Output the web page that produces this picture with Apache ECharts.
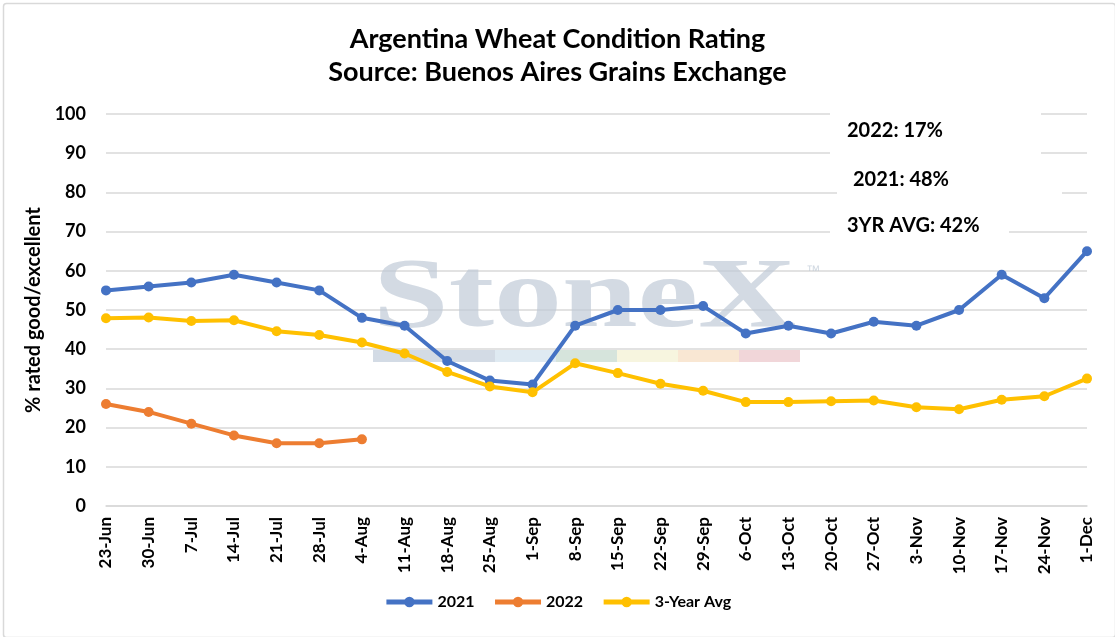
<!doctype html>
<html>
	<head>
		<meta charset="utf-8">
		<title>Argentina Wheat Condition Rating</title>
		<style>
			html, body { margin: 0; padding: 0; background: #fff; }
			#main { width: 1115px; height: 637px; }
		</style>
	</head>
	<body>
		<div id="main"></div>
		<script src="https://cdn.jsdelivr.net/npm/echarts@6/dist/echarts.min.js"></script>
		<script type="text/javascript">
			// weekly report dates
			var weeks = ['23-Jun', '30-Jun', '7-Jul', '14-Jul', '21-Jul', '28-Jul', '4-Aug', '11-Aug', '18-Aug', '25-Aug',
				'1-Sep', '8-Sep', '15-Sep', '22-Sep', '29-Sep', '6-Oct', '13-Oct', '20-Oct', '27-Oct', '3-Nov',
				'10-Nov', '17-Nov', '24-Nov', '1-Dec'];
			// % rated good/excellent
			var rating2021 = [55, 56, 57, 59, 57, 55, 48, 46, 37, 32, 31, 46, 50, 50, 51, 44, 46, 44, 47, 46, 50, 59, 53, 65];
			var rating2022 = [26, 24, 21, 18, 16, 16, 17];
			var avg3yr = [47.9, 48.1, 47.2, 47.4, 44.6, 43.6, 41.7, 38.9, 34.2, 30.5, 29.0, 36.4, 33.9, 31.2, 29.4, 26.5, 26.5,
				26.7, 26.9, 25.2, 24.7, 27.1, 28.0, 32.5];
			var seriesNames = ['2021', '2022', '3-Year Avg'];
			var notes = ['2022: 17%', '2021: 48%', '3YR AVG: 42%'];

			var font = 'Lato, "Open Sans", sans-serif';
			var chart = echarts.init(document.getElementById('main'));

			function lineSeries(name, data, color) {
				return {
					name: name,
					type: 'line',
					data: data,
					symbol: 'circle',
					symbolSize: 10,
					z: 5,
					itemStyle: { color: color },
					lineStyle: { color: color, width: 4 }
				};
			}

			chart.setOption({
				backgroundColor: '#fff',
				animation: false,
				title: {
					text: 'Argentina Wheat Condition Rating\nSource: Buenos Aires Grains Exchange',
					left: 'center',
					top: 18,
					textStyle: { fontFamily: font, fontSize: 27, fontWeight: 'bold', color: '#000', lineHeight: 33 }
				},
				legend: {
					data: seriesNames,
					bottom: 22,
					left: 'center',
					itemWidth: 46,
					itemHeight: 13,
					itemGap: 18,
					lineStyle: { width: 5 },
					textStyle: { fontFamily: font, fontSize: 16, fontWeight: 'bold', color: '#000' }
				},
				grid: { left: 106, right: 28, top: 114, bottom: 131 },
				xAxis: {
					type: 'category',
					data: weeks,
					boundaryGap: false,
					axisLine: { lineStyle: { color: '#d9d9d9', width: 1.5 } },
					axisTick: { show: false },
					axisLabel: {
						rotate: 90,
						margin: 11,
						interval: 0,
						fontFamily: font,
						fontSize: 17,
						fontWeight: 'bold',
						color: '#000'
					}
				},
				yAxis: {
					type: 'value',
					min: 0,
					max: 100,
					interval: 10,
					name: '% rated good/excellent',
					nameLocation: 'middle',
					nameGap: 48,
					nameTextStyle: { fontFamily: font, fontSize: 20, fontWeight: 'bold', color: '#000' },
					axisLine: { show: false },
					axisTick: { show: false },
					axisLabel: { margin: 20, fontFamily: font, fontSize: 18, fontWeight: 'bold', color: '#000' },
					splitLine: { lineStyle: { color: '#d9d9d9', width: 1.5 } }
				},
				graphic: [
					// outer chart frame
					{
						type: 'rect', left: 1, top: 1, z: 0, silent: true,
						shape: { width: 1112, height: 634, r: 3 },
						style: { fill: null, stroke: '#d9d9d9', lineWidth: 1.5 }
					},
					// watermark
					{
						type: 'text', left: 373, top: 250, z: 1, silent: true, scaleX: 1.36,
						style: { text: 'StoneX', font: 'bold 100px "Liberation Serif", serif', fill: 'rgba(190,201,213,0.68)' }
					},
					{
						type: 'text', left: 806, top: 264, z: 1, silent: true,
						style: { text: '™', font: '14px "Liberation Sans", sans-serif', fill: 'rgba(190,201,213,0.72)' }
					},
					{ type: 'rect', left: 373, top: 350, z: 1, silent: true, shape: { width: 122, height: 12 }, style: { fill: '#d3dbe5' } },
					{ type: 'rect', left: 495, top: 350, z: 1, silent: true, shape: { width: 61, height: 12 }, style: { fill: '#dfeaf2' } },
					{ type: 'rect', left: 556, top: 350, z: 1, silent: true, shape: { width: 61, height: 12 }, style: { fill: '#d6e4dc' } },
					{ type: 'rect', left: 617, top: 350, z: 1, silent: true, shape: { width: 61, height: 12 }, style: { fill: '#f7f5df' } },
					{ type: 'rect', left: 678, top: 350, z: 1, silent: true, shape: { width: 61, height: 12 }, style: { fill: '#f9e7d3' } },
					{ type: 'rect', left: 739, top: 350, z: 1, silent: true, shape: { width: 61, height: 12 }, style: { fill: '#f1d6d9' } },
					// note boxes
					{ type: 'rect', left: 830, top: 108, z: 10, silent: true, shape: { width: 211, height: 50 }, style: { fill: '#fff' } },
					{ type: 'rect', left: 837, top: 166, z: 10, silent: true, shape: { width: 225, height: 32 }, style: { fill: '#fff' } },
					{ type: 'rect', left: 830, top: 212, z: 10, silent: true, shape: { width: 179, height: 32 }, style: { fill: '#fff' } },
					{
						type: 'text', left: 847, top: 121, z: 11, silent: true,
						style: { text: notes[0], font: 'bold 20px ' + font, fill: '#000' }
					},
					{
						type: 'text', left: 853, top: 170, z: 11, silent: true,
						style: { text: notes[1], font: 'bold 20px ' + font, fill: '#000' }
					},
					{
						type: 'text', left: 847, top: 216, z: 11, silent: true,
						style: { text: notes[2], font: 'bold 20px ' + font, fill: '#000' }
					}
				],
				series: [
					lineSeries(seriesNames[0], rating2021, '#4472c4'),
					lineSeries(seriesNames[1], rating2022, '#ed7d31'),
					lineSeries(seriesNames[2], avg3yr, '#ffc000')
				]
			});
		</script>
	</body>
</html>
